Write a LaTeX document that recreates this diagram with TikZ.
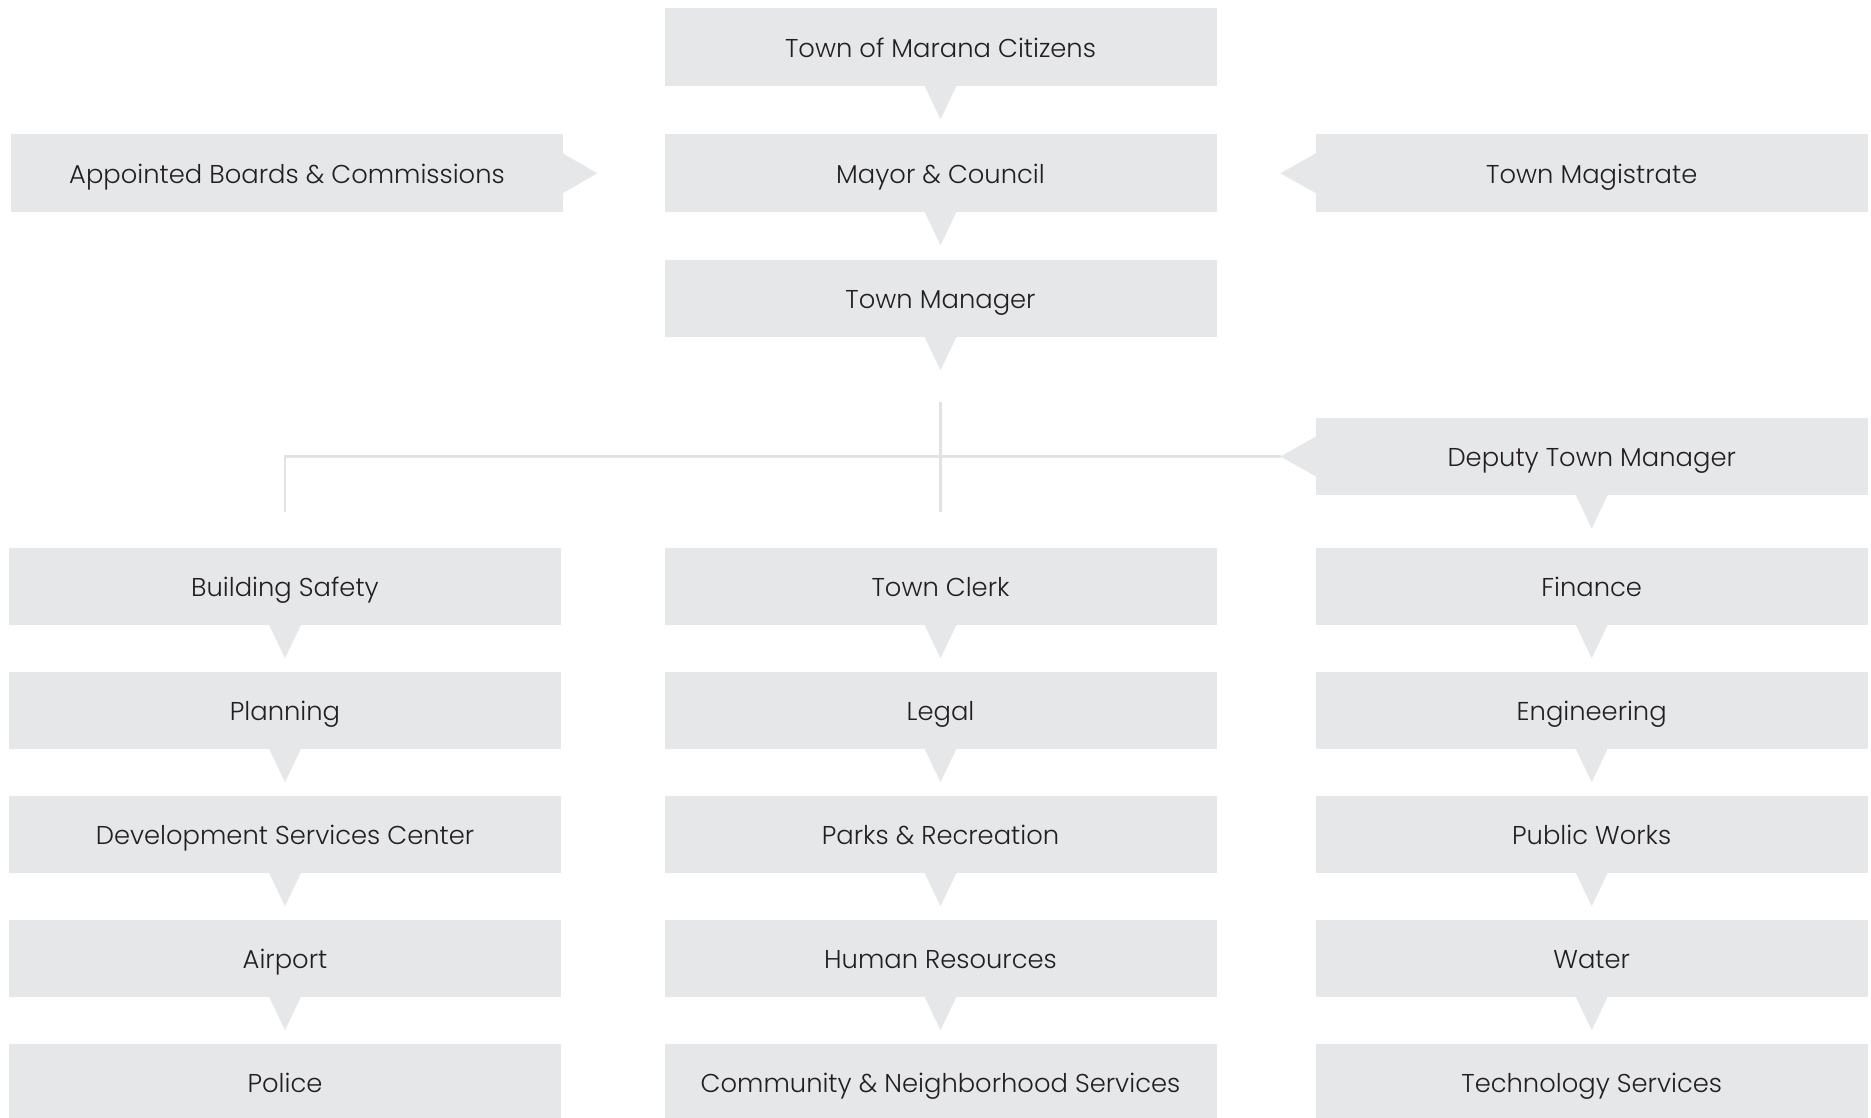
\documentclass[tikz,border=0pt]{standalone}
\usepackage{fontspec}
\setmainfont{Poppins Light}
\usetikzlibrary{calc}

\definecolor{boxfill}{HTML}{E6E7E8}
\definecolor{linegray}{HTML}{E1E2E4}
\definecolor{ink}{HTML}{231F20}

\tikzset{
  unit/.style={rectangle, fill=boxfill, minimum width=552, minimum height=77.5,
               inner sep=0, text height=20.5, text depth=0, text=ink,
               font=\fontsize{25.8}{30}\selectfont},
  pointer/.style={fill=boxfill},
  link/.style={draw=linegray, line width=2.5}
}

% pointer triangles attached to a box
\newcommand\tipdown[1]{\fill[pointer] ($(#1.south)+(-16,-0.5)$) -- ($(#1.south)+(16,-0.5)$) -- ($(#1.south)+(0,33)$) -- cycle;}
\newcommand\tipright[1]{\fill[pointer] ($(#1.east)+(-0.5,-20)$) -- ($(#1.east)+(34,0)$) -- ($(#1.east)+(-0.5,20)$) -- cycle;}
\newcommand\tipleft[1]{\fill[pointer] ($(#1.west)+(0.5,-20)$) -- ($(#1.west)+(-35,0)$) -- ($(#1.west)+(0.5,20)$) -- cycle;}

\begin{document}
\begin{tikzpicture}[x=1pt,y=-1pt]
\clip (0,0) rectangle (1871,1118);
\fill[white] (0,0) rectangle (1871,1118);

% upper chain
\node[unit] (cit)   at (940.5,47.25)  {Town of Marana Citizens};
\node[unit] (mayor) at (940.5,173.25) {Mayor \& Council};
\node[unit] (tm)    at (940.5,298.25) {Town Manager};
\node[unit] (app)   at (287,173.25)   {Appointed Boards \& Commissions};
\node[unit] (mag)   at (1591.7,173.25) {Town Magistrate};
\node[unit] (dep)   at (1591.7,456.5) {Deputy Town Manager};

% left column
\node[unit] (bs)   at (285,586.25)  {Building Safety};
\node[unit] (plan) at (285,710.25)  {Planning};
\node[unit] (dsc)  at (285,834.25)  {Development Services Center};
\node[unit] (air)  at (285,958.25)  {Airport};
\node[unit] (pol)  at (285,1082.25) {Police};

% middle column
\node[unit] (tc)   at (940.5,586.25)  {Town Clerk};
\node[unit] (leg)  at (940.5,710.25)  {Legal};
\node[unit] (park) at (940.5,834.25)  {Parks \& Recreation};
\node[unit] (hr)   at (940.5,958.25)  {Human Resources};
\node[unit] (cns)  at (940.5,1082.25) {Community \& Neighborhood Services};

% right column
\node[unit] (fin)  at (1591.7,586.25)  {Finance};
\node[unit] (eng)  at (1591.7,710.25)  {Engineering};
\node[unit] (pw)   at (1591.7,834.25)  {Public Works};
\node[unit] (wat)  at (1591.7,958.25)  {Water};
\node[unit] (tech) at (1591.7,1082.25) {Technology Services};

% pointers
\foreach \b in {cit,mayor,tm,dep,bs,plan,dsc,air,tc,leg,park,hr,fin,eng,pw,wat}{\tipdown{\b}}
\tipright{app}
\tipleft{mag}
\tipleft{dep}

% branch lines
\coordinate (deptip) at ($(dep.west)+(-35,0)$);
\coordinate (tmgap)  at ($(tm.south)+(0,65)$);
\coordinate (tctop)  at ($(tc.north)+(0,-35)$);
\coordinate (bstop)  at ($(bs.north)+(0,-35)$);
\draw[link] (tmgap) -- (tctop);
\draw[link] (deptip) -- (bstop |- deptip) -- (bstop);
\end{tikzpicture}
\end{document}
